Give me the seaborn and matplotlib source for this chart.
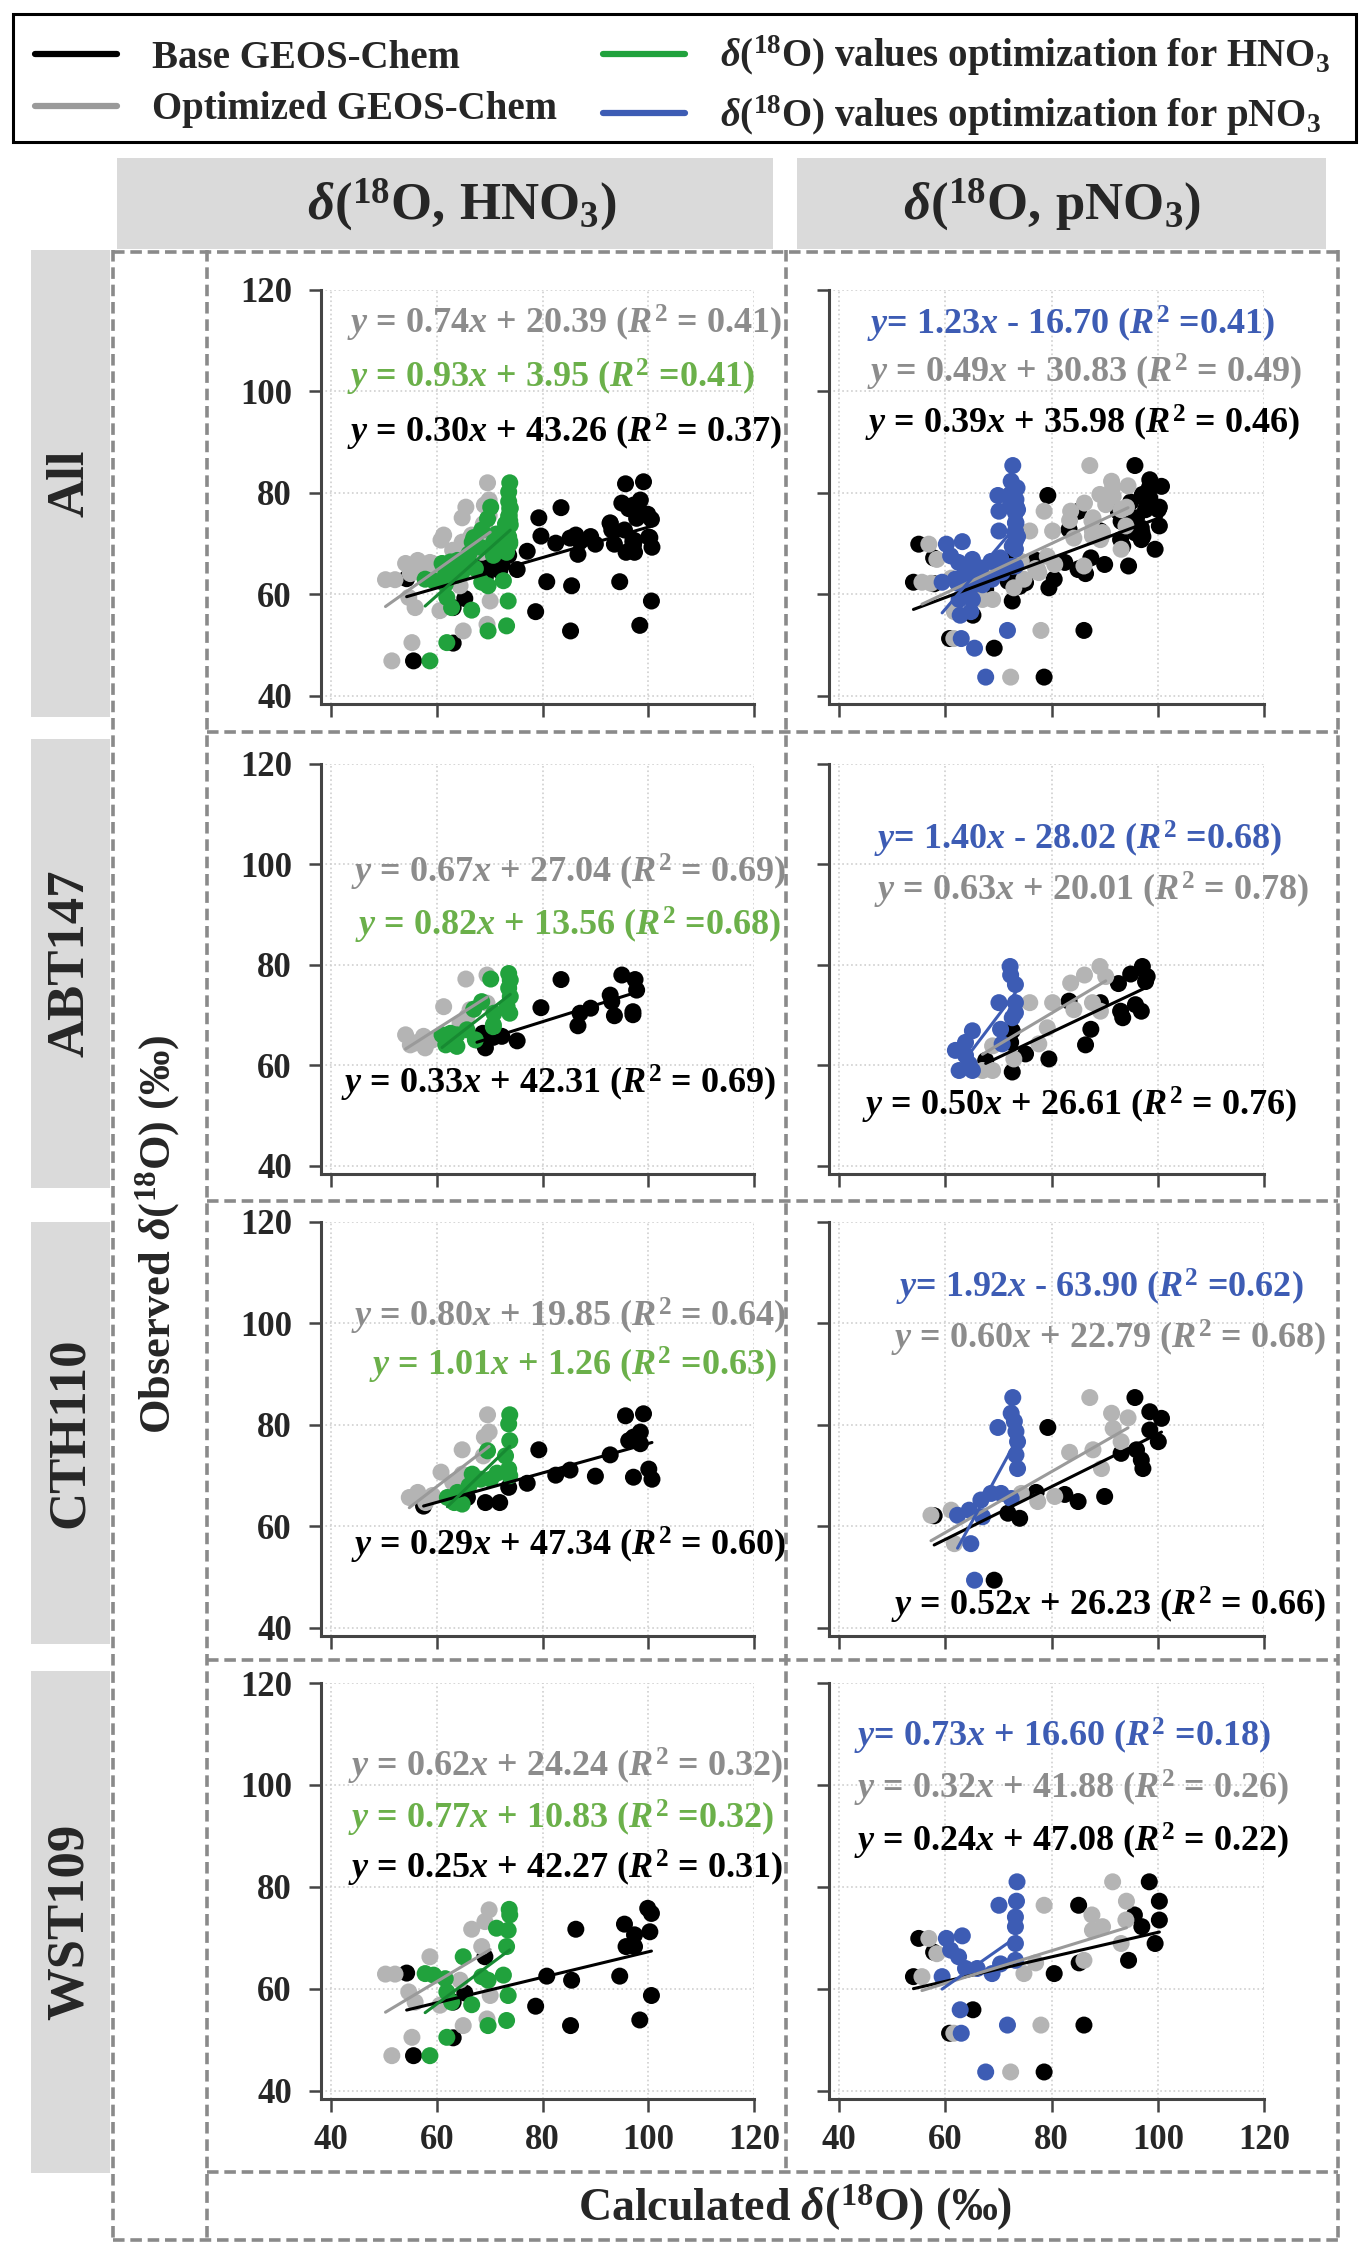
import matplotlib
matplotlib.use("Agg")
import numpy as np
import pandas as pd
import seaborn as sns
import matplotlib.pyplot as plt
from matplotlib.patches import Rectangle
from matplotlib.lines import Line2D

# ---------------- data ----------------
# ABT147, HNO3
ABT_HNO3_base_x = [83.5, 95.0, 97.5, 97.8, 92.8, 93.1, 89.1, 87.1, 79.7, 93.6, 97.1, 97.1, 86.7, 75.2, 72.3, 70.7, 69.2, 67.6, 68.7]
ABT_HNO3_base_y = [77.1, 78.0, 77.1, 75.0, 74.0, 72.7, 71.4, 70.4, 71.5, 69.9, 70.7, 70.1, 67.9, 64.9, 65.8, 65.6, 63.5, 65.1, 66.4]
ABT_HNO3_opt_x = [65.5, 69.5, 61.3, 66.3, 69.5, 54.1, 55.0, 57.8, 57.5, 65.7, 64.4, 59.0, 56.0]
ABT_HNO3_opt_y = [77.2, 78.0, 71.7, 71.1, 72.4, 66.1, 64.1, 63.5, 65.8, 69.7, 68.4, 65.0, 64.5]
ABT_HNO3_sp_x = [73.6, 73.9, 70.2, 73.6, 73.9, 73.3, 73.8, 67.0, 68.5, 70.8, 70.7, 70.7, 62.6, 63.8, 61.0, 61.7, 63.8, 67.3, 65.7]
ABT_HNO3_sp_y = [78.3, 77.0, 77.2, 75.4, 73.7, 71.7, 70.4, 71.2, 72.7, 70.4, 68.1, 67.7, 66.4, 66.1, 66.1, 64.1, 63.8, 65.1, 67.1]
# ABT147, pNO3
ABT_pNO3_base_x = [97.1, 94.9, 98.0, 97.7, 92.6, 83.3, 89.2, 93.0, 95.8, 96.9, 93.4, 87.4, 86.4, 72.6, 72.3, 75.1, 79.5, 72.6, 67.6]
ABT_pNO3_base_y = [79.7, 78.2, 77.7, 76.7, 76.3, 72.8, 72.5, 70.8, 72.1, 70.8, 69.5, 67.2, 64.1, 66.9, 64.6, 62.3, 61.3, 58.7, 61.0]
ABT_pNO3_opt_x = [89.1, 86.2, 83.6, 90.2, 75.9, 80.2, 84.2, 87.7, 89.2, 79.2, 77.6, 68.9, 72.9, 67.0, 68.9]
ABT_pNO3_opt_y = [79.7, 78.0, 76.4, 77.7, 72.5, 72.5, 71.1, 72.5, 70.8, 67.5, 64.3, 63.9, 61.3, 59.0, 59.0]
ABT_pNO3_sp_x = [72.2, 72.3, 73.2, 70.1, 73.2, 73.2, 72.6, 70.4, 65.1, 63.8, 61.9, 63.8, 62.6, 65.1, 64.5, 70.7]
ABT_pNO3_sp_y = [79.7, 78.0, 76.1, 72.5, 72.5, 70.5, 69.5, 67.2, 66.9, 64.6, 63.0, 62.0, 59.0, 59.0, 60.3, 64.3]
# CTH110, HNO3
CTH_HNO3_base_x = [95.7, 99.1, 98.5, 96.3, 97.2, 98.5, 79.3, 92.8, 85.2, 82.5, 90.0, 97.2, 100.1, 100.7, 77.1, 73.6, 69.2, 71.9, 65.8, 57.5]
CTH_HNO3_base_y = [81.8, 82.2, 78.6, 76.9, 77.6, 76.3, 75.1, 74.1, 71.1, 70.1, 69.9, 69.7, 71.3, 69.3, 68.5, 67.7, 64.7, 64.7, 65.7, 64.0]
CTH_HNO3_opt_x = [69.6, 69.9, 69.0, 64.8, 68.8, 60.8, 63.0, 64.8, 56.4, 54.8, 57.9, 59.2]
CTH_HNO3_opt_y = [82.0, 78.6, 77.6, 75.1, 73.9, 70.7, 68.7, 70.3, 66.7, 65.7, 64.7, 66.1]
CTH_HNO3_sp_x = [73.8, 73.6, 73.8, 69.6, 73.0, 73.6, 73.8, 71.4, 66.7, 68.3, 66.1, 63.9, 62.0, 63.3, 64.8, 70.2]
CTH_HNO3_sp_y = [82.0, 80.2, 76.9, 74.9, 73.9, 71.3, 70.0, 70.5, 70.3, 69.3, 68.0, 66.7, 65.7, 64.7, 64.4, 69.3]
# CTH110, pNO3
CTH_pNO3_base_x = [95.7, 98.5, 100.7, 98.5, 100.1, 93.1, 96.0, 96.9, 97.2, 79.3, 82.5, 85.0, 90.0, 77.1, 74.0, 71.8, 57.9, 69.2]
CTH_pNO3_base_y = [85.4, 82.6, 81.3, 79.0, 76.7, 74.4, 75.1, 73.1, 71.4, 79.5, 66.3, 64.9, 65.9, 66.7, 61.6, 62.6, 62.1, 49.4]
CTH_pNO3_opt_x = [87.2, 91.3, 94.4, 91.6, 93.1, 83.4, 87.8, 89.4, 80.6, 77.4, 74.3, 57.3, 61.1, 61.7]
CTH_pNO3_opt_y = [85.4, 82.3, 81.4, 79.3, 76.7, 74.6, 75.1, 71.4, 65.9, 64.9, 66.5, 62.2, 63.2, 56.6]
CTH_pNO3_sp_x = [72.7, 72.4, 73.0, 69.9, 73.3, 73.6, 73.3, 73.6, 70.5, 68.6, 66.7, 64.5, 62.3, 67.0, 64.8, 65.5, 72.4]
CTH_pNO3_sp_y = [85.4, 82.3, 80.7, 79.5, 78.7, 76.7, 74.1, 71.4, 66.5, 66.5, 65.2, 63.2, 62.2, 61.9, 56.6, 49.4, 65.5]
# WST109, HNO3
WST_HNO3_base_x = [99.9, 100.6, 95.5, 97.4, 100.3, 95.8, 97.4, 86.3, 80.8, 85.5, 94.6, 100.6, 78.7, 85.3, 98.4, 69.1, 65.3, 63.1, 63.1, 55.6, 54.3]
WST_HNO3_base_y = [75.8, 74.8, 72.7, 70.6, 71.2, 68.3, 68.3, 71.7, 62.5, 61.7, 62.5, 58.7, 56.6, 52.8, 53.9, 66.3, 59.2, 57.4, 50.4, 46.9, 63.1]
WST_HNO3_opt_x = [69.9, 69.1, 66.6, 68.5, 58.7, 50.3, 52.1, 54.7, 55.9, 60.6, 64.4, 70.1, 69.5, 65.0, 55.3, 51.5]
WST_HNO3_opt_y = [75.5, 73.2, 71.7, 68.3, 66.3, 62.9, 62.9, 59.4, 57.4, 56.8, 61.7, 58.7, 54.1, 52.8, 50.5, 46.9]
WST_HNO3_sp_x = [73.7, 73.8, 71.3, 73.5, 73.2, 65.0, 57.8, 59.4, 61.6, 68.5, 69.7, 72.6, 73.5, 61.9, 66.6, 62.8, 69.7, 73.2, 61.9, 58.7]
WST_HNO3_sp_y = [75.6, 74.5, 71.9, 71.5, 68.3, 66.3, 63.0, 62.7, 62.0, 62.4, 61.7, 62.7, 58.7, 59.4, 56.9, 57.4, 52.8, 53.8, 50.5, 46.9]
# WST109, pNO3
WST_pNO3_base_x = [98.4, 100.3, 85.1, 95.6, 97.0, 100.3, 99.5, 94.5, 85.2, 80.5, 55.0, 57.8, 54.0, 65.2, 60.8, 86.1, 78.6]
WST_pNO3_base_y = [81.0, 77.2, 76.4, 74.5, 72.2, 73.5, 68.9, 65.6, 65.1, 63.0, 69.9, 67.2, 62.4, 55.9, 51.3, 52.9, 43.7]
WST_pNO3_opt_x = [91.5, 78.6, 94.1, 87.6, 89.6, 87.7, 94.0, 93.1, 86.1, 77.0, 74.8, 56.9, 58.4, 55.6, 61.6, 78.0, 72.3]
WST_pNO3_opt_y = [81.0, 76.4, 77.2, 74.5, 72.2, 71.5, 73.5, 68.9, 65.6, 65.1, 63.0, 69.9, 66.9, 62.4, 51.3, 52.9, 43.7]
WST_pNO3_sp_x = [73.5, 70.1, 73.4, 73.2, 73.2, 73.2, 73.2, 63.2, 60.2, 61.0, 62.5, 63.8, 66.0, 70.4, 68.8, 59.4, 62.8, 63.0, 67.6, 71.7]
WST_pNO3_sp_y = [81.0, 76.4, 77.2, 74.1, 72.2, 68.9, 65.6, 70.4, 69.9, 67.6, 66.3, 64.0, 64.0, 64.9, 63.0, 62.4, 55.9, 51.3, 43.7, 52.9]

# regression equations shown in each panel: (slope, intercept, R2)
rows = ["All", "ABT147", "CTH110", "WST109"]
species = ["HNO3", "pNO3"]
fit_base = {("All", "HNO3"): (0.30, 43.26, 0.37), ("All", "pNO3"): (0.39, 35.98, 0.46),
            ("ABT147", "HNO3"): (0.33, 42.31, 0.69), ("ABT147", "pNO3"): (0.50, 26.61, 0.76),
            ("CTH110", "HNO3"): (0.29, 47.34, 0.60), ("CTH110", "pNO3"): (0.52, 26.23, 0.66),
            ("WST109", "HNO3"): (0.25, 42.27, 0.31), ("WST109", "pNO3"): (0.24, 47.08, 0.22)}
fit_opt = {("All", "HNO3"): (0.74, 20.39, 0.41), ("All", "pNO3"): (0.49, 30.83, 0.49),
           ("ABT147", "HNO3"): (0.67, 27.04, 0.69), ("ABT147", "pNO3"): (0.63, 20.01, 0.78),
           ("CTH110", "HNO3"): (0.80, 19.85, 0.64), ("CTH110", "pNO3"): (0.60, 22.79, 0.68),
           ("WST109", "HNO3"): (0.62, 24.24, 0.32), ("WST109", "pNO3"): (0.32, 41.88, 0.26)}
fit_sp = {("All", "HNO3"): (0.93, 3.95, 0.41), ("All", "pNO3"): (1.23, -16.70, 0.41),
          ("ABT147", "HNO3"): (0.82, 13.56, 0.68), ("ABT147", "pNO3"): (1.40, -28.02, 0.68),
          ("CTH110", "HNO3"): (1.01, 1.26, 0.63), ("CTH110", "pNO3"): (1.92, -63.90, 0.62),
          ("WST109", "HNO3"): (0.77, 10.83, 0.32), ("WST109", "pNO3"): (0.73, 16.60, 0.18)}
ticks = [40, 60, 80, 100, 120]

# ---------------- assemble long table ----------------
g = globals()
recs = []
for site, key in [("ABT147", "ABT"), ("CTH110", "CTH"), ("WST109", "WST")]:
    for sp in species:
        for model in ["base", "opt", "sp"]:
            xs = g[f"{key}_{sp}_{model}_x"]
            ys = g[f"{key}_{sp}_{model}_y"]
            for xv, yv in zip(xs, ys):
                recs.append((site, sp, model, xv, yv))
df = pd.DataFrame(recs, columns=["site", "species", "model", "calc", "obs"])
df["model"] = pd.Categorical(df["model"], ["base", "opt", "sp"], ordered=True)

# ---------------- style ----------------
sns.set_theme(style="white")
plt.rcParams["font.family"] = ["Liberation Serif", "DejaVu Serif"]
plt.rcParams["font.weight"] = "bold"
plt.rcParams["mathtext.fontset"] = "custom"
plt.rcParams["mathtext.rm"] = "Liberation Serif:bold"
plt.rcParams["mathtext.it"] = "Liberation Serif:italic:bold"
plt.rcParams["mathtext.bf"] = "Liberation Serif:bold"

W, H = 1370, 2256
fig = plt.figure(figsize=(W / 100, H / 100), dpi=100)
fig.patch.set_facecolor("white")

def fx(px):
    return px / W

def fy(py):
    return 1 - py / H

pt_col = {"base": "#000000", "opt": "#b4b4b4", "HNO3": "#21a23d", "pNO3": "#3d5cb4"}
ln_col = {"base": "#000000", "opt": "#9a9a9a", "HNO3": "#178a32", "pNO3": "#3d5cb4"}
tx_col = {"base": "#000000", "opt": "#8c8c8c", "HNO3": "#6bb04a", "pNO3": "#3d5cb4"}

# panel pixel boxes
row_px = [(290, 704), (764, 1174), (1222, 1636), (1683, 2099)]
col_px = [(321, 754), (829, 1264)]

# equation text anchor (data coords: left x, centre y) per panel
txt_pos = {
    ("All", "HNO3"): {"opt": (43.0, 113.5), "sp": (43.0, 102.8), "base": (43.0, 92.0)},
    ("All", "pNO3"): {"sp": (45.2, 113.2), "opt": (45.2, 103.8), "base": (44.9, 93.6)},
    ("ABT147", "HNO3"): {"opt": (43.7, 98.5), "sp": (44.6, 87.9), "base": (41.8, 56.5)},
    ("ABT147", "pNO3"): {"sp": (46.6, 104.9), "opt": (46.6, 94.8), "base": (44.4, 52.1)},
    ("CTH110", "HNO3"): {"opt": (43.8, 101.3), "sp": (47.2, 91.7), "base": (43.8, 56.2)},
    ("CTH110", "pNO3"): {"sp": (50.7, 107.1), "opt": (49.7, 97.1), "base": (49.7, 44.5)},
    ("WST109", "HNO3"): {"opt": (43.3, 103.7), "sp": (43.3, 93.5), "base": (43.3, 83.7)},
    ("WST109", "pNO3"): {"sp": (42.9, 109.6), "opt": (42.9, 99.4), "base": (42.9, 88.9)},
}

def eq_label(kind, a, b, r):
    if kind in ("base", "opt"):
        return rf"$y$ = {a:.2f}$x$ + {b:.2f} ($R^2$ = {r:.2f})"
    if kind == "HNO3":
        return rf"$y$ = {a:.2f}$x$ + {b:.2f} ($R^2$ ={r:.2f})"
    sign = "-" if b < 0 else "+"
    return rf"$y$= {a:.2f}$x$ {sign} {abs(b):.2f} ($R^2$ ={r:.2f})"

for i, site in enumerate(rows):
    for j, sp in enumerate(species):
        t, b = row_px[i]
        l, r = col_px[j]
        ax = fig.add_axes([fx(l), fy(b), (r - l) / W, (b - t) / H])
        sub = df[df["species"] == sp]
        if site != "All":
            sub = sub[sub["site"] == site]
        sub = sub.sort_values("model", kind="stable").copy()
        sub["col"] = sub["model"].astype(str).replace({"sp": sp})
        sns.scatterplot(data=sub, x="calc", y="obs", hue="col",
                        palette={k: pt_col[k] for k in ["base", "opt", sp]},
                        s=150, linewidth=0, alpha=1, legend=False, ax=ax, zorder=3)
        for model, fits in [("base", fit_base), ("opt", fit_opt), ("sp", fit_sp)]:
            kind = sp if model == "sp" else model
            a, c, r2 = fits[(site, sp)]
            xs = sub.loc[sub["model"] == model, "calc"]
            xl = np.array([xs.min(), xs.max()])
            sns.lineplot(x=xl, y=a * xl + c, color=ln_col[kind], lw=2.2, ax=ax, zorder=4)
            tx, ty = txt_pos[(site, sp)][model]
            ax.text(tx, ty, eq_label(kind, a, c, r2), color=tx_col[kind],
                    fontsize=26, fontweight="bold", ha="left", va="center", zorder=6)
        ax.set_xlim(38.1, 120)
        ax.set_ylim(38.4, 120)
        ax.set_xticks(ticks)
        ax.set_yticks(ticks)
        ax.set_xlabel("")
        ax.set_ylabel("")
        ax.grid(True, linestyle=":", color="#cfcfcf", linewidth=1.2)
        ax.set_axisbelow(True)
        for s in ["top", "right"]:
            ax.spines[s].set_visible(False)
        for s in ["left", "bottom"]:
            ax.spines[s].set_color("#444444")
            ax.spines[s].set_linewidth(2.2)
        ax.tick_params(axis="both", direction="out", length=9, width=1.8, color="#444444",
                       labelsize=25, left=True, bottom=True)
        ax.tick_params(axis="y", pad=12)
        ax.tick_params(axis="x", pad=9)
        if j == 1:
            ax.set_yticklabels([])
        else:
            ax.set_yticklabels([str(v) for v in ticks], fontweight="bold")
        if i < 3:
            ax.set_xticklabels([])
        else:
            ax.set_xticklabels([str(v) for v in ticks], fontweight="bold")

# ---------------- frame decorations ----------------
dash = dict(color="#8a8a8a", lw=2.6, linestyle=(0, (3.2, 1.6)), transform=fig.transFigure)

def hline(y, x0, x1):
    fig.add_artist(Line2D([fx(x0), fx(x1)], [fy(y), fy(y)], **dash))

def vline(x, y0, y1):
    fig.add_artist(Line2D([fx(x), fx(x)], [fy(y0), fy(y1)], **dash))

vline(113, 250, 2240)
hline(2240, 113, 1338)
vline(1338, 250, 2240)
vline(207, 250, 2240)
vline(786, 250, 2172)
for yy in [732, 1201, 1660, 2172]:
    hline(yy, 207, 1338)
hline(252, 113, 1338)

def gray_box(x0, y0, x1, y1):
    fig.add_artist(Rectangle((fx(x0), fy(y1)), (x1 - x0) / W, (y1 - y0) / H,
                             transform=fig.transFigure, facecolor="#dadada",
                             edgecolor="none", zorder=5))

gray_box(117, 158, 773, 249)
gray_box(797, 158, 1326, 249)
fig.text(fx(462), fy(205), r"$\mathit{\delta}(^{18}\mathrm{O,}\,\mathrm{HNO}_{3})$",
         fontsize=38, ha="center", va="center", zorder=6)
fig.text(fx(1052), fy(205), r"$\mathit{\delta}(^{18}\mathrm{O,}\,\mathrm{pNO}_{3})$",
         fontsize=38, ha="center", va="center", zorder=6)

row_box = [(250, 717), (739, 1188), (1222, 1644), (1671, 2173)]
for name, (y0, y1) in zip(rows, row_box):
    gray_box(31, y0, 110, y1)
    fig.text(fx(70), fy((y0 + y1) / 2), name, rotation=90, fontsize=38,
             fontweight="bold", ha="center", va="center", zorder=6)

fig.text(fx(158), fy(1235), r"Observed $\mathit{\delta}(^{18}\mathrm{O})$ (‰)",
         rotation=90, fontsize=32, fontweight="bold", ha="center", va="center")
fig.text(fx(795), fy(2208), r"Calculated $\mathit{\delta}(^{18}\mathrm{O})$ (‰)",
         fontsize=33, fontweight="bold", ha="center", va="center")

# ---------------- legend ----------------
fig.add_artist(Rectangle((fx(13), fy(142)), (1356 - 13) / W, (142 - 14) / H,
                         transform=fig.transFigure, facecolor="white",
                         edgecolor="black", lw=2.2))
handles = [Line2D([], [], color="#000000", lw=4.5),
           Line2D([], [], color="#9a9a9a", lw=4.5),
           Line2D([], [], color="#21a23d", lw=4.5),
           Line2D([], [], color="#3d5cb4", lw=4.5)]
labels = ["Base GEOS-Chem", "Optimized GEOS-Chem",
          r"$\mathit{\delta}(^{18}\mathrm{O})$ values optimization for HNO$_3$",
          r"$\mathit{\delta}(^{18}\mathrm{O})$ values optimization for pNO$_3$"]
fig.legend(handles, labels, ncol=2, loc="upper left", bbox_to_anchor=(fx(35), fy(34)),
           frameon=False, handlelength=2.1, handletextpad=0.9,
           columnspacing=1.2, labelspacing=0.38, borderpad=0, borderaxespad=0,
           prop={"weight": "bold", "size": 28})

fig.savefig("out.png", dpi=100, facecolor="white")
